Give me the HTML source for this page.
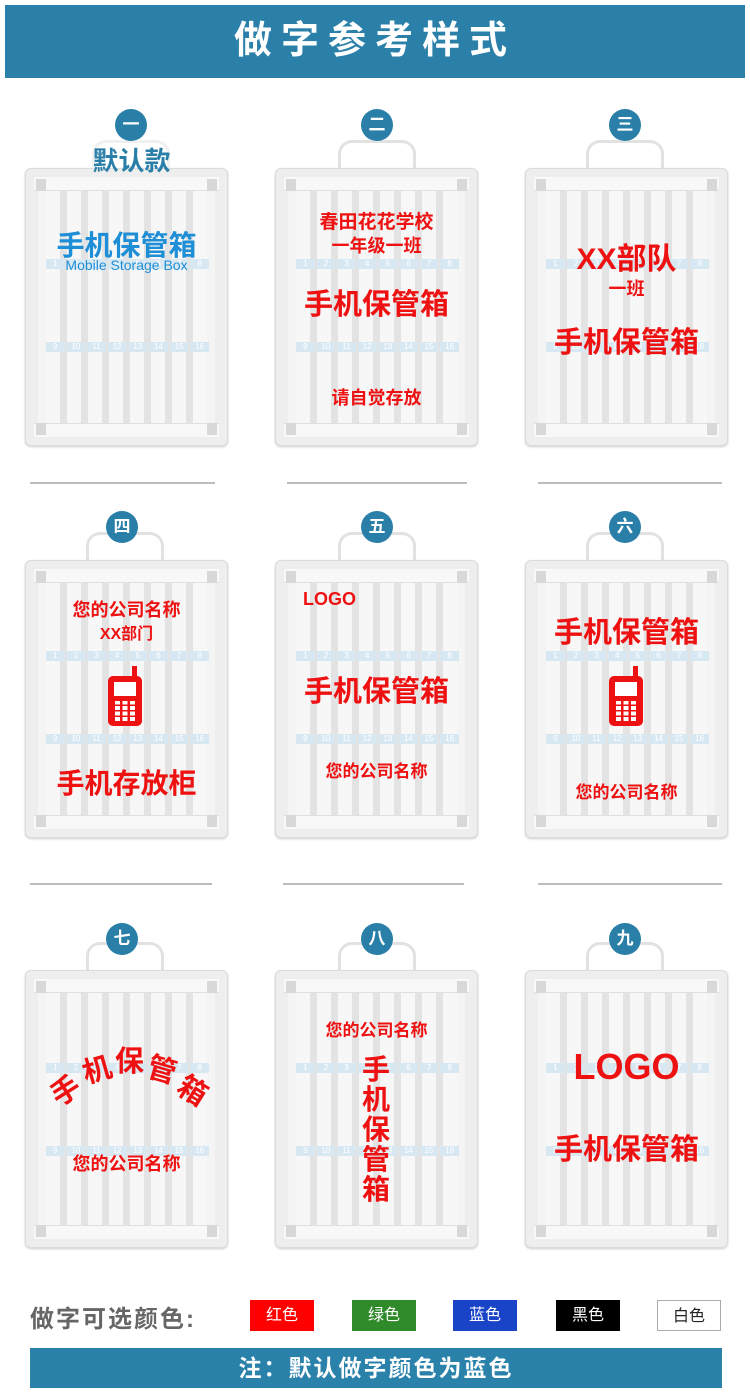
<!DOCTYPE html>
<html><head><meta charset="utf-8"><style>
*{margin:0;padding:0;box-sizing:border-box}
body{width:750px;height:1400px;background:#fff;position:relative;overflow:hidden;font-family:"Liberation Sans","Noto Sans CJK SC",sans-serif}
.abs{position:absolute}
.banner{left:5px;top:5px;width:740px;height:73px;background:#2a80a9;color:#fff;font-size:38px;font-weight:bold;text-align:center;line-height:73px;letter-spacing:9px}
.badge{width:32px;height:32px;border-radius:50%;background:#2a7fa8;color:#fff;font-size:17px;font-weight:bold;text-align:center;line-height:32px}
.handle{width:78px;height:30px;border:3px solid #e2e2e2;border-bottom:none;border-radius:14px 14px 0 0}
.cab{width:203px;height:278px;border-radius:6px;background:#eeeeee;border:1px solid #dcdcdc;box-shadow:0 1px 2px #ccc}
.cab .top{position:absolute;left:8px;right:8px;top:8px;height:14px;background:#f8f8f8;border-bottom:1px solid #e0e0e0}
.cab .bot{position:absolute;left:8px;right:8px;bottom:8px;height:14px;background:#f8f8f8;border-top:1px solid #e0e0e0}
.cab .in{position:absolute;left:12px;right:12px;top:22px;bottom:22px;background:repeating-linear-gradient(90deg,#f7f7f7 0 14px,#e3e3e3 14px 21px);border-left:8px solid #f4f4f4;border-right:8px solid #f4f4f4}
.cab .c{position:absolute;width:10px;height:12px;background:#d8d8d8}
.strip{position:absolute;left:20px;width:163px;height:10px;display:flex;gap:2px}
.strip span{flex:1;background:#d8e8f3;color:#fff;font-size:8px;line-height:10px;text-align:center}
.red{color:#ee1111;font-weight:bold;text-align:center;position:absolute;white-space:nowrap}
.line{height:2px;background:#bdbdbd}
.sw{width:64px;height:31px;text-align:center;line-height:31px;font-size:16px;color:#fff}
.phone{position:absolute;width:34px;height:50px;background:#ee1111;border-radius:5px}
.phone:before{content:"";position:absolute;left:6px;top:6px;width:22px;height:14px;background:#fff}
.phone:after{content:"";position:absolute;left:7px;top:25px;width:20px;height:20px;background:repeating-linear-gradient(90deg,#fff 0 5px,transparent 5px 7.5px);-webkit-mask:repeating-linear-gradient(0deg,#000 0 4px,transparent 4px 5.5px)}
.ant{position:absolute;width:5px;height:12px;background:#ee1111}
</style></head><body>
<div class="abs banner">做字参考样式</div>

<!-- row 1 -->
<div class="abs handle" style="left:338px;top:140px"></div>
<div class="abs handle" style="left:586px;top:140px"></div>
<div class="abs handle" style="left:92px;top:140px;opacity:.5"></div>

<div class="abs cab" style="left:25px;top:168px"><div class="top"></div><div class="bot"></div><div class="in"></div><div class="c" style="left:10px;top:10px"></div><div class="c" style="right:10px;top:10px"></div><div class="c" style="left:10px;bottom:10px"></div><div class="c" style="right:10px;bottom:10px"></div>
<div class="strip" style="top:90px"><span>1</span><span>2</span><span>3</span><span>4</span><span>5</span><span>6</span><span>7</span><span>8</span></div>
<div class="strip" style="top:173px"><span>9</span><span>10</span><span>11</span><span>12</span><span>13</span><span>14</span><span>15</span><span>16</span></div></div>
<div class="abs cab" style="left:275px;top:168px"><div class="top"></div><div class="bot"></div><div class="in"></div><div class="c" style="left:10px;top:10px"></div><div class="c" style="right:10px;top:10px"></div><div class="c" style="left:10px;bottom:10px"></div><div class="c" style="right:10px;bottom:10px"></div>
<div class="strip" style="top:90px"><span>1</span><span>2</span><span>3</span><span>4</span><span>5</span><span>6</span><span>7</span><span>8</span></div>
<div class="strip" style="top:173px"><span>9</span><span>10</span><span>11</span><span>12</span><span>13</span><span>14</span><span>15</span><span>16</span></div></div>
<div class="abs cab" style="left:525px;top:168px"><div class="top"></div><div class="bot"></div><div class="in"></div><div class="c" style="left:10px;top:10px"></div><div class="c" style="right:10px;top:10px"></div><div class="c" style="left:10px;bottom:10px"></div><div class="c" style="right:10px;bottom:10px"></div>
<div class="strip" style="top:90px"><span>1</span><span>2</span><span>3</span><span>4</span><span>5</span><span>6</span><span>7</span><span>8</span></div>
<div class="strip" style="top:173px"><span>9</span><span>10</span><span>11</span><span>12</span><span>13</span><span>14</span><span>15</span><span>16</span></div></div>

<div class="abs badge" style="left:115px;top:109px">一</div>
<div class="abs badge" style="left:361px;top:109px">二</div>
<div class="abs badge" style="left:609px;top:109px">三</div>

<div class="abs" style="left:25px;width:213px;top:141px;text-align:center;font-size:26px;font-weight:bold;color:#2a7fa8">默认款</div>
<div class="abs" style="left:25px;width:203px;top:224px;text-align:center;font-size:28px;font-weight:bold;color:#1e8fd6">手机保管箱</div>
<div class="abs" style="left:25px;width:203px;top:257px;text-align:center;font-size:14px;color:#1e8fd6">Mobile Storage Box</div>

<div class="red" style="left:275px;width:203px;top:207px;font-size:19px">春田花花学校</div>
<div class="red" style="left:275px;width:203px;top:232px;font-size:18px">一年级一班</div>
<div class="red" style="left:275px;width:203px;top:281px;font-size:29px">手机保管箱</div>
<div class="red" style="left:275px;width:203px;top:384px;font-size:18px">请自觉存放</div>

<div class="red" style="left:525px;width:203px;top:234px;font-size:30px">XX部队</div>
<div class="red" style="left:525px;width:203px;top:275px;font-size:18px">一班</div>
<div class="red" style="left:525px;width:203px;top:319px;font-size:29px">手机保管箱</div>

<div class="abs line" style="left:30px;width:185px;top:482px"></div>
<div class="abs line" style="left:287px;width:180px;top:482px"></div>
<div class="abs line" style="left:538px;width:184px;top:482px"></div>

<!-- row 2 -->
<div class="abs handle" style="left:86px;top:532px"></div>
<div class="abs handle" style="left:338px;top:532px"></div>
<div class="abs handle" style="left:586px;top:532px"></div>
<div class="abs cab" style="left:25px;top:560px"><div class="top"></div><div class="bot"></div><div class="in"></div><div class="c" style="left:10px;top:10px"></div><div class="c" style="right:10px;top:10px"></div><div class="c" style="left:10px;bottom:10px"></div><div class="c" style="right:10px;bottom:10px"></div>
<div class="strip" style="top:90px"><span>1</span><span>2</span><span>3</span><span>4</span><span>5</span><span>6</span><span>7</span><span>8</span></div>
<div class="strip" style="top:173px"><span>9</span><span>10</span><span>11</span><span>12</span><span>13</span><span>14</span><span>15</span><span>16</span></div></div>
<div class="abs cab" style="left:275px;top:560px"><div class="top"></div><div class="bot"></div><div class="in"></div><div class="c" style="left:10px;top:10px"></div><div class="c" style="right:10px;top:10px"></div><div class="c" style="left:10px;bottom:10px"></div><div class="c" style="right:10px;bottom:10px"></div>
<div class="strip" style="top:90px"><span>1</span><span>2</span><span>3</span><span>4</span><span>5</span><span>6</span><span>7</span><span>8</span></div>
<div class="strip" style="top:173px"><span>9</span><span>10</span><span>11</span><span>12</span><span>13</span><span>14</span><span>15</span><span>16</span></div></div>
<div class="abs cab" style="left:525px;top:560px"><div class="top"></div><div class="bot"></div><div class="in"></div><div class="c" style="left:10px;top:10px"></div><div class="c" style="right:10px;top:10px"></div><div class="c" style="left:10px;bottom:10px"></div><div class="c" style="right:10px;bottom:10px"></div>
<div class="strip" style="top:90px"><span>1</span><span>2</span><span>3</span><span>4</span><span>5</span><span>6</span><span>7</span><span>8</span></div>
<div class="strip" style="top:173px"><span>9</span><span>10</span><span>11</span><span>12</span><span>13</span><span>14</span><span>15</span><span>16</span></div></div>
<div class="abs badge" style="left:106px;top:511px">四</div>
<div class="abs badge" style="left:361px;top:511px">五</div>
<div class="abs badge" style="left:609px;top:511px">六</div>

<div class="red" style="left:25px;width:203px;top:596px;font-size:18px">您的公司名称</div>
<div class="red" style="left:25px;width:203px;top:620px;font-size:16px">XX部门</div>
<div class="ant" style="left:132px;top:666px"></div><div class="phone" style="left:108px;top:676px"></div>
<div class="red" style="left:25px;width:203px;top:762px;font-size:28px">手机存放柜</div>

<div class="red" style="left:303px;top:589px;font-size:18px">LOGO</div>
<div class="red" style="left:275px;width:203px;top:668px;font-size:29px">手机保管箱</div>
<div class="red" style="left:275px;width:203px;top:757px;font-size:17px">您的公司名称</div>

<div class="red" style="left:525px;width:203px;top:609px;font-size:29px">手机保管箱</div>
<div class="ant" style="left:633px;top:666px"></div><div class="phone" style="left:609px;top:676px"></div>
<div class="red" style="left:525px;width:203px;top:778px;font-size:17px">您的公司名称</div>

<div class="abs line" style="left:30px;width:182px;top:883px"></div>
<div class="abs line" style="left:283px;width:181px;top:883px"></div>
<div class="abs line" style="left:538px;width:184px;top:883px"></div>

<!-- row 3 -->
<div class="abs handle" style="left:86px;top:942px"></div>
<div class="abs handle" style="left:338px;top:942px"></div>
<div class="abs handle" style="left:586px;top:942px"></div>
<div class="abs cab" style="left:25px;top:970px"><div class="top"></div><div class="bot"></div><div class="in"></div><div class="c" style="left:10px;top:10px"></div><div class="c" style="right:10px;top:10px"></div><div class="c" style="left:10px;bottom:10px"></div><div class="c" style="right:10px;bottom:10px"></div>
<div class="strip" style="top:92px"><span>1</span><span>2</span><span>3</span><span>4</span><span>5</span><span>6</span><span>7</span><span>8</span></div>
<div class="strip" style="top:175px"><span>9</span><span>10</span><span>11</span><span>12</span><span>13</span><span>14</span><span>15</span><span>16</span></div></div>
<div class="abs cab" style="left:275px;top:970px"><div class="top"></div><div class="bot"></div><div class="in"></div><div class="c" style="left:10px;top:10px"></div><div class="c" style="right:10px;top:10px"></div><div class="c" style="left:10px;bottom:10px"></div><div class="c" style="right:10px;bottom:10px"></div>
<div class="strip" style="top:92px"><span>1</span><span>2</span><span>3</span><span>4</span><span>5</span><span>6</span><span>7</span><span>8</span></div>
<div class="strip" style="top:175px"><span>9</span><span>10</span><span>11</span><span>12</span><span>13</span><span>14</span><span>15</span><span>16</span></div></div>
<div class="abs cab" style="left:525px;top:970px"><div class="top"></div><div class="bot"></div><div class="in"></div><div class="c" style="left:10px;top:10px"></div><div class="c" style="right:10px;top:10px"></div><div class="c" style="left:10px;bottom:10px"></div><div class="c" style="right:10px;bottom:10px"></div>
<div class="strip" style="top:92px"><span>1</span><span>2</span><span>3</span><span>4</span><span>5</span><span>6</span><span>7</span><span>8</span></div>
<div class="strip" style="top:175px"><span>9</span><span>10</span><span>11</span><span>12</span><span>13</span><span>14</span><span>15</span><span>16</span></div></div>
<div class="abs badge" style="left:106px;top:923px">七</div>
<div class="abs badge" style="left:361px;top:923px">八</div>
<div class="abs badge" style="left:609px;top:923px">九</div>

<div class="red" style="left:50px;top:1068px;font-size:29px;transform:rotate(-32deg)">手</div>
<div class="red" style="left:82px;top:1047px;font-size:29px;transform:rotate(-16deg)">机</div>
<div class="red" style="left:115px;top:1038px;font-size:29px">保</div>
<div class="red" style="left:148px;top:1047px;font-size:29px;transform:rotate(16deg)">管</div>
<div class="red" style="left:179px;top:1068px;font-size:29px;transform:rotate(32deg)">箱</div>
<div class="red" style="left:25px;width:203px;top:1150px;font-size:18px">您的公司名称</div>

<div class="red" style="left:275px;width:203px;top:1016px;font-size:17px">您的公司名称</div>
<div class="red" style="left:360px;width:32px;top:1055px;font-size:28px;line-height:30px;white-space:normal">手<br>机<br>保<br>管<br>箱</div>

<div class="red" style="left:525px;width:203px;top:1046px;font-size:36px">LOGO</div>
<div class="red" style="left:525px;width:203px;top:1126px;font-size:29px">手机保管箱</div>

<!-- bottom -->
<div class="abs" style="left:30px;top:1299px;font-size:24px;font-weight:bold;color:#666;letter-spacing:2px">做字可选颜色:</div>
<div class="abs sw" style="left:250px;top:1300px;background:#ff0000">红色</div>
<div class="abs sw" style="left:352px;top:1300px;background:#2f8a2a">绿色</div>
<div class="abs sw" style="left:453px;top:1300px;background:#1a44c8">蓝色</div>
<div class="abs sw" style="left:556px;top:1300px;background:#000">黑色</div>
<div class="abs sw" style="left:657px;top:1300px;background:#fff;color:#222;border:1px solid #aaa">白色</div>
<div class="abs" style="left:30px;top:1348px;width:692px;height:40px;background:#2a82ab;color:#fff;font-size:23px;font-weight:bold;text-align:center;line-height:40px;letter-spacing:2px">注：默认做字颜色为蓝色</div>
</body></html>
